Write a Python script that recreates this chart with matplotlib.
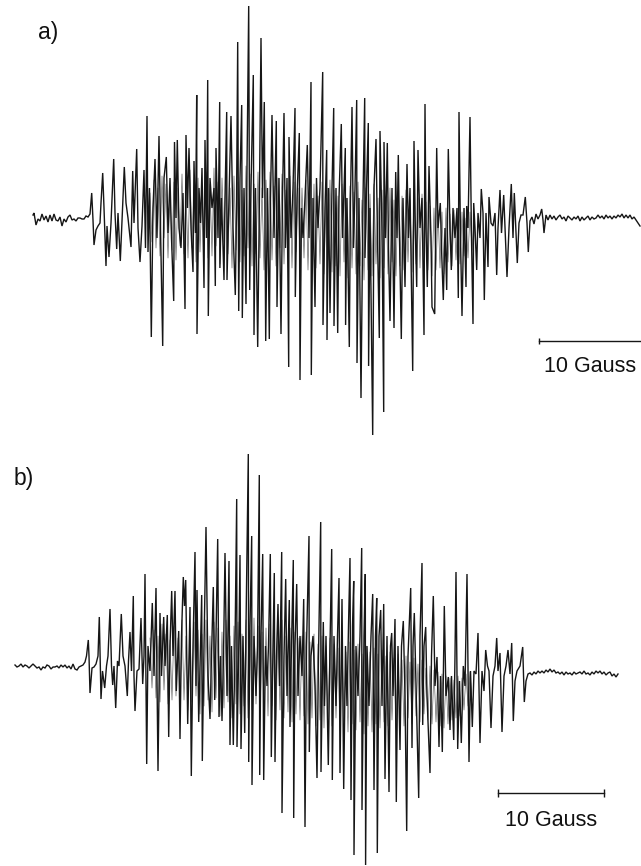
import matplotlib
matplotlib.use("Agg")
import matplotlib.pyplot as plt

plt.rcParams['font.family'] = ['Liberation Sans', 'DejaVu Sans']

# (field position, intensity relative to baseline)
a_trace = [
(33,3),(34,5),(36,-7),(38,-1),(40,-3),(42,4),(44,-2),(46,2),(48,-4),(50,3),(52,-3),(54,4),(56,-2),(58,-3),(60,1),(62,-8),(64,-1),(66,-4),(68,1),(70,3),(72,-2),(74,-1),(76,-3),(78,0),(80,0),(82,-1),(84,-1),(86,2),(88,1),(90,4),
(91.7,25),(93,-2),(94,-27),(96,-12),(98,-8),(100,-5),(101,15),(102.7,45),(104,10),(106,-48),(107,-8),(109,-39),(111,-5),(113.7,59),(115,5),(116.7,-31),(118,5),(120.3,-43),(122,-2),(124.3,51),(126,15),(128,0),(129,-10),(131,-29),(132.7,47),(134,-5),(136.7,69),(138,-10),(140,-44),(142,-8),(144,48),(145.5,-30),(147,102),(148,-34),
(149.5,30),(151.3,-119),(153,10),(155,59),(157,-20),(159,82),(160.5,-10),(162.7,-128),(164,40),(166.3,61),(168,-15),(170,40),(171.5,-20),(173.7,-83),(174.5,76),(176,0),(177.3,78),(179,-10),(181,-30),(183,25),(185,-91),(186,83),(187.5,10),(189,70),(191,-10),(193,-54),(194,57),(195.5,-15),(196.7,123),(197,-116),(199,30),(200.5,-5),(202,50),(204,-70),(205,78),(206.5,-20),(207.7,138),(208.3,-98),(210,40),(212,10),(214,30),(215.3,-68),(216,70),(218,-20),(219.7,116),(219.9,-50),(221.5,20),(224,-62),(225,20),(226.7,106),(227,-62),(229,20),(231,102),(233,-10),(235.3,-77),(236.5,10),(237.7,176),(238.7,-93),(240,40),(241.7,113),(242.3,-100),(244,30),(246,-86),(247,50),(248.7,212),(249.7,-72),(251,30),(253.3,143),(254,-117),(255.5,30),(257.7,-129),(259,-20),(261,180),(262.5,20),(264.3,116),(265.7,-123),(267.5,30),(269.3,-121),(270.5,20),(272,103),(274,-20),(276.3,97),(277,-89),(279,40),(281,-116),(282.5,20),(284,105),(285.5,-30),(287,40),(288.7,-149),(289,81),(291,-20),(293,30),(295,110),(295.3,-79),(297,20),(299.3,85),(300,-162),
(301.5,10),(303,-20),(305,20),(307.3,73),(309,-20),(311,136),(311.3,-157),(313,20),(315,-89),(316.5,40),(318,-10),(320,30),(322.7,146),(323,-107),(325,10),(326.7,68),(327,-122),(328.5,30),(330,-95),(332,30),(333.7,110),(334,-108),(336,30),(337.7,-115),(339,20),(341.3,94),(342.5,-20),(345.3,70),(345.6,-107),(347,20),(349.3,-129),(350.5,20),(352,111),(353.5,-30),(355,30),(356.7,118),(357,-145),(359,20),(361,-180),(363,20),(364.7,120),(365,-40),(366.5,30),(368.3,95),(368.6,-148),(370,10),(372.7,-217),(374,30),(376,79),(377.5,-20),(379.3,-120),(380,87),(382,-10),(383.7,-194),(384,76),(385.5,-20),(387.3,75),(388.5,-30),(390,-103),(392,30),(394,-110),(395.7,46),(397,-20),(398.3,63),(399.5,-20),(401.3,-121),(403,20),(405,-69),(407,54),(408.5,-20),(410,30),(412.7,-153),(414,77),(415.5,-20),(416.7,-69),(418,68),(420,-10),(422,20),(424,-117),(425,114),(426,-10),(427.3,-69),(429,52),(431,-20),(432,-89),(434.7,-96),(436.7,70),(438,-10),(440.3,15),(441.5,-30),(443.3,-82),(445,-10),(446.7,-72),(448.3,69),(450,-10),(451.3,-52),(453,10),(455,-20),(457,10),(458.3,-80),(459,106),(460.5,-20),(462,-98),(464,10),(466,-69),(466.7,12),(468,-10),(470,101),(471.5,-20),(473,-106),(473.7,15),(475,-10),(476.7,-52),(478,5),(480,-20),(481.3,29),(483,5),(484.3,-82),(486,5),(488,-49),(489,21),(491,-5),(493,-8),(495,5),(496.7,-57),(498,-10),(500,28),(501.5,-15),(503.7,23),(505,-10),(507,-59),(509,-10),(511.3,34),(513,-20),(514.3,25),(516,-15),(517.3,-45),(519,-5),(521,3),(523,3),(525.3,21),(527,-5),(528.3,-34),(530,-3),(532,1),(534,-6),(536,4),(538,-1),(540,3),(541.7,9),(543,-2),(544,-15),
(546,3),(548,-2),(550,3),(552,-1),(554,2),(556,-2),(558,1),(560,3),(562,-1),(564,1),(566,-3),(568,2),(570,0),(572,-2),(574,1),(576,-1),(578,2),(580,-3),(582,1),(584,-2),(586,0),(588,2),(590,-2),(592,1),(594,-1),(596,0),(598,3),(600,0),(602,2),(604,-1),(606,3),(608,0),(610,2),(612,-1),(614,2),(616,0),(618,3),(620,1),(622,4),(624,0),(626,3),(628,0),(630,3),(632,-1),(634,1),(636,-2),(638,-5),(640,-8),
]

# dense central band of overlapping smaller lines, spectrum a
a_inner = [
(150,25),(152,-24),(154,38),(156,-30),(158,30),(160,-38),(162,42),(164,-20),(166,34),(168,-40),(170,28),(172,-32),(174,36),(176,-42),(178,30),(180,-28),(182,44),(184,-36),(186,26),(188,-40),(190,48),(192,-30),(194,32),(196,-44),(198,40),(200,-34),(202,30),(204,-26),(206,46),(208,-40),(210,34),(212,-38),(214,50),(216,-28),(218,36),(220,-46),(222,40),(224,-24),(226,48),(228,-36),(230,30),(232,-50),(234,42),(236,-32),(238,36),(240,-44),(242,28),(244,-38),(246,52),(248,-30),(250,44),(252,-48),(254,34),(256,-36),(258,46),(260,-40),(262,30),(264,-52),(266,38),(268,-34),(270,46),(272,-42),(274,32),(276,-48),(278,40),(280,-30),(282,44),(284,-46),(286,28),(288,-38),(290,42),(292,-50),(294,36),(296,-34),(298,30),(300,-46),
(302,30),(304,-40),(306,38),(308,-52),(310,28),(312,-44),(314,34),(316,-50),(318,22),(320,-46),(322,36),(324,-56),(326,24),(328,-42),(330,38),(332,-54),(334,28),(336,-48),(338,22),(340,-58),(342,34),(344,-44),(346,20),(348,-60),(350,32),(352,-50),(354,26),(356,-56),(358,36),(360,-48),(362,18),(364,-62),(366,30),(368,-52),(370,24),(372,-58),(374,34),(376,-46),(378,20),(380,-60),(382,28),(384,-50),(386,22),(388,-56),(390,30),(392,-44),(394,18),(396,-58),(398,26),(400,-48),(402,22),(404,-52),(406,28),(408,-44),(410,18),(412,-54),(414,26),(416,-46),(418,20),(420,-50),(422,24),(424,-40),(426,16),(428,-52),(430,12),(432,-58),(434,10),(436,-52),(438,8),(440,-50),(442,6),(444,-56),(446,10),(448,-44),(450,4),(452,-48),(454,8),(456,-42),(458,2),(460,-46),(462,6),(464,-38),(466,0),(468,-40),(470,6),(472,-32),(474,-2),(476,-30),
]

b_trace = [
(15,1),(17,-1),(19,0),(21,2),(23,-1),(25,1),(27,0),(29,-2),(31,0),(33,2),(35,0),(37,-2),(39,-1),(41,-4),(43,-1),(45,-2),(47,1),(49,0),(51,-3),(53,-1),(55,-1),(57,0),(59,-2),(61,1),(63,-1),(65,1),(67,-2),(69,0),(71,-3),(73,2),(75,-3),(77,-4),(79,-1),(81,0),(83,1),(85,4),(86.5,10),
(88.3,26),(89,10),(90,-27),(92,-2),(94,-1),(96,2),(98,10),(99.3,49),(100.3,0),(101,-33),(102.5,-5),(104.7,-22),(106.5,0),(108,10),(110,57),(111.5,0),(112.7,-19),(114,0),(115.7,-42),(117.5,5),(119,0),(121.3,52),(123,10),(125,0),(127.3,-30),(128.5,5),(130,34),(131.5,-5),(133.3,70),(134,-10),(135,-45),(137,-5),(139,-3),(141,48),(142.7,-18),(144,10),(145,92),(146.7,-98),(148,20),(150,-5),(152.3,63),(154,-10),(156,78),(158,-105),(160,53),(161.5,-10),(163.7,49),(165,0),(167.3,51),(168.7,-71),(170,20),(171.7,75),(173,10),(175,75),(176.3,-25),(178.7,35),(180,-73),(181.5,30),(183.3,89),(184.5,60),(185.7,86),(187.7,-58),(189,10),(190,59),(191.3,-110),(193,20),(195,114),(196,-20),(197,76),(198.7,-56),(200.5,20),(201.7,71),(202.3,-95),(204,20),(206,139),(208,-10),(210,-53),(211.5,10),(213.3,79),(214.7,-34),(216,30),(217.7,127),(219,-51),(220.5,10),(222,-55),(223.5,10),(225,113),(227,-30),(229,105),(230,-79),(231.5,20),(233.3,-79),(235,20),(236.7,167),(237,-81),(239,30),(240,111),(241,-83),(243,30),(244.7,-67),(246,40),(248.3,212),(248.7,-96),(250,40),(251.7,130),(252,-119),(254,30),(256,-30),(257.5,20),(259.3,191),(259.7,-109),(261,30),(262.7,112),(263.7,-114),(265.5,20),(267,-20),(268.5,20),(270.3,112),(271.3,-91),(273,20),(274.3,93),(275,-96),(276.5,10),(278,62),(279.5,-20),(281.7,114),(282,-147),(284,10),(285.7,87),(287,-30),(289.3,66),(290,-61),
(291.5,20),(293.3,106),(293.7,-152),(295,20),(296.7,82),(298,-30),(300,30),(302,-10),(303.7,67),(305,-161),(306.5,20),(309,130),(309.3,-86),(311,10),(313,30),(315,-20),(317,-112),(318.5,10),(320.7,144),(321,-106),(323.3,44),(324.5,-40),(326,30),(328.3,-99),(330,20),(331.7,117),(332.3,-114),(334,30),(336,-40),(337.5,30),(339,88),(340,-107),(342,67),(343.7,-123),(345.5,20),(347,-40),(348.5,40),(350,108),(351,-134),(352.5,40),(353.7,85),(354,-189),(356,20),(358,-30),(360,30),(361.7,118),(362,-144),(364,30),(365.3,92),(365.6,-199),(367,20),(369,-40),(371,30),(372.7,72),(374,-124),(375.5,30),(376.7,68),(377.3,-187),(379,30),(380.7,56),(382,-40),(383.7,62),(385,-113),(387,30),(389,-126),(390.5,20),(391.7,33),(393,-30),(395,47),(396.3,-136),(398,20),(400,-84),(401.5,20),(403.3,45),(405,-30),(406.7,-165),(408,10),(410.7,78),(412,-82),(413,20),(414.3,53),(416,-20),(418.7,-132),(420,30),(422,103),(422.7,-59),(424,20),(425.7,39),(427,-30),(430,-107),(431.5,10),(433.3,70),(435,-20),(437,9),(439,-81),(440.5,-10),(442.3,-86),(443.5,5),(444.3,60),(446,-30),(448.3,-11),(450,-64),(451.5,-10),(453.7,-74),(455,10),(456,94),(457.7,-83),(459.5,-15),(461.3,-77),(463.3,0),(465,-20),(467,92),(469,-96),(470.5,-5),(472.3,-61),(474,-5),(476,-8),(478,33),(480,-77),(482,-5),(484,-25),(485.7,16),(487.5,0),(489,-5),(491,-62),(493,-10),(495,0),(496.7,28),(498,-5),(500,13),(502,-66),(504,-10),(506,0),(508,16),(510,-8),(511.7,23),(513.3,-55),(515,-15),(517,-5),(520,0),(522.7,19),(524.3,-36),(526,-15),(528,-8),
(530,-7),(532,-9),(534,-6),(536,-8),(538,-5),(540,-7),(542,-5),(544,-7),(546,-4),(548,-6),(550,-3),(552,-6),(554,-4),(556,-7),(558,-6),(560,-8),(562,-6),(564,-9),(566,-6),(568,-8),(570,-7),(572,-9),(574,-6),(576,-8),(578,-7),(580,-6),(582,-8),(584,-5),(586,-8),(588,-7),(590,-9),(592,-6),(594,-8),(596,-5),(598,-7),(600,-5),(602,-8),(604,-6),(606,-9),(608,-7),(610,-6),(612,-10),(614,-8),(616,-11),(618,-8),
]

# dense central band of overlapping smaller lines, spectrum b
b_inner = [
(150,28),(152,-22),(154,36),(156,-32),(158,30),(160,-36),(162,42),(164,-24),(166,32),(168,-38),(170,26),(172,-34),(174,40),(176,-30),(178,28),(180,-42),(182,46),(184,-34),(186,30),(188,-44),(190,38),(192,-36),(194,44),(196,-30),(198,36),(200,-48),(202,32),(204,-40),(206,46),(208,-34),(210,30),(212,-46),(214,44),(216,-32),(218,38),(220,-50),(222,34),(224,-42),(226,46),(228,-36),(230,30),(232,-52),(234,40),(236,-38),(238,44),(240,-48),(242,32),(244,-40),(246,46),(248,-52),(250,36),(252,-44),(254,48),(256,-38),(258,40),(260,-54),(262,34),(264,-46),(266,38),(268,-50),(270,42),(272,-40),(274,34),(276,-54),(278,40),(280,-44),(282,46),(284,-52),(286,30),(288,-46),(290,38),(292,-56),(294,34),(296,-48),(298,28),(300,-54),
(302,30),(304,-50),(306,34),(308,-58),(310,24),(312,-52),(314,32),(316,-60),(318,22),(320,-54),(322,30),(324,-62),(326,20),(328,-56),(330,28),(332,-60),(334,22),(336,-52),(338,18),(340,-64),(342,26),(344,-56),(346,14),(348,-66),(350,24),(352,-58),(354,16),(356,-64),(358,22),(360,-56),(362,12),(364,-68),(366,20),(368,-60),(370,14),(372,-66),(374,18),(376,-58),(378,12),(380,-62),(382,16),(384,-56),(386,10),(388,-60),(390,14),(392,-54),(394,8),(396,-62),(398,12),(400,-56),(402,6),(404,-60),(406,10),(408,-52),(410,4),(412,-58),(414,8),(416,-50),(418,2),(420,-56),(422,6),(424,-48),(426,-2),(428,-54),(430,0),(432,-58),(434,-4),(436,-56),(438,-6),(440,-60),(442,-8),(444,-62),(446,-10),(448,-58),(450,-12),(452,-54),(454,-14),(456,-52),(458,-10),(460,-50),(462,-12),(464,-44),(466,-8),(468,-40),(470,-6),(472,-34),
]

a_scale_bar = (539, 641)
b_scale_bar = (498, 604)
scale_label = "10 Gauss"
panel_labels = ("a)", "b)")

W, H = 641, 866
fig = plt.figure(figsize=(W / 100, H / 100), dpi=100)
INK = "#161616"

def panel(top, bottom, baseline):
    ax = fig.add_axes([0, 1 - bottom / H, 1, (bottom - top) / H])
    ax.set_xlim(0, W)
    ax.set_ylim(baseline - bottom, baseline - top)
    ax.axis("off")
    return ax

ax_a = panel(0, 440, 218)
ax_b = panel(440, 866, 666)

for ax, trace, inner in ((ax_a, a_trace, a_inner), (ax_b, b_trace, b_inner)):
    ax.plot([p[0] for p in inner], [p[1] for p in inner], color="#666666", lw=0.5, clip_on=False)
    ax.plot([p[0] for p in trace], [p[1] for p in trace], color=INK, lw=1.0,
            solid_joinstyle="miter", clip_on=False)

# scale bars and labels, offsets in intensity units below the baseline
ax_a.plot(a_scale_bar, (-123, -123), color=INK, lw=1.0, clip_on=False)
ax_a.plot(a_scale_bar[0], -123, marker="|", ms=5, mew=1.0, color=INK)
ax_b.plot(b_scale_bar, (-127, -127), color=INK, lw=1.0)
ax_b.plot(b_scale_bar, (-127, -127), ls="none", marker="|", ms=6, mew=1.0, color=INK)

ax_a.text(590, -148, scale_label, ha="center", va="center", fontsize=15.5, color="#111111")
ax_b.text(551.5, -154, scale_label, ha="center", va="center", fontsize=15.5, color="#111111")
ax_a.text(38, 185, panel_labels[0], ha="left", va="center", fontsize=16.5, color="#111111")
ax_b.text(14, 187, panel_labels[1], ha="left", va="center", fontsize=16.5, color="#111111")

fig.savefig("out.png", dpi=100, facecolor="white")
